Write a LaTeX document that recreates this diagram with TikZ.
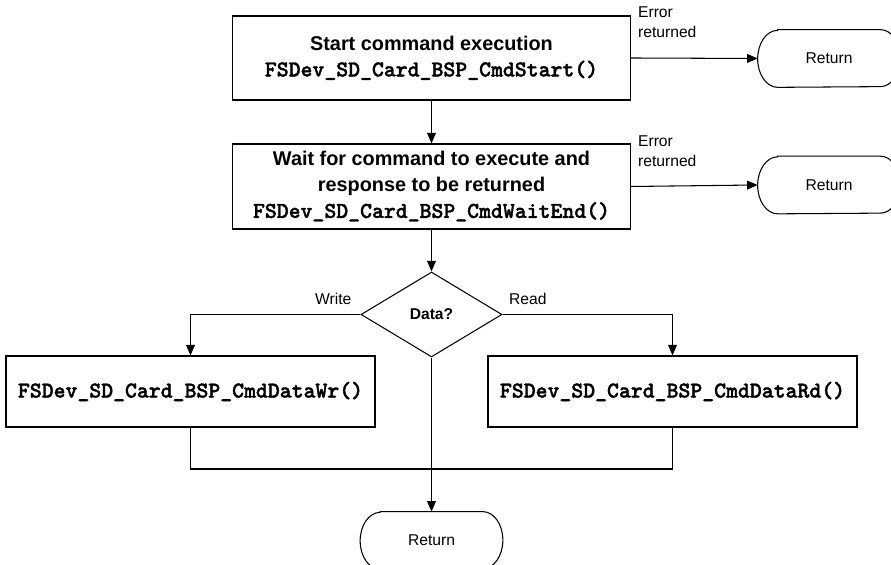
\documentclass[tikz,border=0pt]{standalone}
\usepackage{fontspec}
\setmainfont{Liberation Sans}
\newfontfamily\cmdfont[FakeBold=1.6]{lmmonolt10-bold.otf}
\usetikzlibrary{positioning,shapes.geometric,arrows.meta}
\newcommand{\fname}[1]{{\fontsize{12.9}{14.8}\selectfont\cmdfont #1}}

\begin{document}
\begin{tikzpicture}[
    proc/.style={rectangle,draw,line width=0.6pt,align=center,font=\fontsize{11.3}{14.8}\selectfont\bfseries},
    term/.style={rectangle,minimum width=2.84cm,minimum height=1.14cm,font=\fontsize{8.9}{11}\selectfont,
        append after command={\pgfextra{\draw[line width=0.6pt]
            ([xshift=0.4cm]\tikzlastnode.north west) -- ([xshift=-0.4cm]\tikzlastnode.north east)
            arc[start angle=90,end angle=-90,x radius=0.4cm,y radius=0.57cm]
            -- ([xshift=0.4cm]\tikzlastnode.south west)
            arc[start angle=270,end angle=90,x radius=0.4cm,y radius=0.57cm] -- cycle;}}},
    dec/.style={diamond,draw,line width=0.6pt,inner sep=0pt,minimum width=2.82cm,minimum height=1.70cm,font=\fontsize{8.9}{11}\selectfont\bfseries},
    lbl/.style={inner sep=1pt,align=left,font=\fontsize{8.9}{11.4}\selectfont},
    arrow/.style={-{Triangle[length=6pt,width=5pt]},line width=0.6pt},
    line/.style={line width=0.6pt}
]
\useasboundingbox (0,0) rectangle (17.82,11.3);

% main column
\node[proc,minimum width=7.96cm,minimum height=1.68cm] (start) at (8.63,10.14) {Start command execution\\\fname{FSDev\_SD\_Card\_BSP\_CmdStart()}};
\node[proc,minimum width=7.96cm,minimum height=1.70cm] (wait) at (8.63,7.57) {Wait for command to execute and\\response to be returned\\\fname{FSDev\_SD\_Card\_BSP\_CmdWaitEnd()}};
\node[dec] (data) at (8.63,5.01) {Data?};

% error exits
\node[term] (ret1) at (16.58,10.13) {Return};
\node[term] (ret2) at (16.58,7.60) {Return};
\node[lbl,above right=0.36cm and 0.1cm of start.east] (err1) {Error\\returned};
\node[lbl,above right=0.36cm and 0.1cm of wait.east] (err2) {Error\\returned};

\draw[arrow] (start) -- (wait);
\draw[arrow] (wait) -- (data);
\draw[arrow] (start.east) -- (ret1.west);
\draw[arrow] (wait.east) -- (ret2.west);

% data branches
\node[proc,minimum width=7.38cm,minimum height=1.42cm] (wr) at (3.81,3.47) {\fname{FSDev\_SD\_Card\_BSP\_CmdDataWr()}};
\node[proc,minimum width=7.38cm,minimum height=1.42cm] (rd) at (13.45,3.47) {\fname{FSDev\_SD\_Card\_BSP\_CmdDataRd()}};
\node[lbl,above left=0.16cm and 0.14cm of data.west] (write) {Write};
\node[lbl,above right=0.16cm and 0.09cm of data.east] (read) {Read};

\draw[arrow] (data.west) -| (wr.north);
\draw[arrow] (data.east) -| (rd.north);

% join and final return
\coordinate (join) at (8.63,1.92);
\node[term] (ret3) at (8.63,0.49) {Return};
\draw[line] (wr.south) |- (join) -| (rd.south);
\draw[arrow] (data.south) -- (ret3.north);

\end{tikzpicture}
\end{document}
